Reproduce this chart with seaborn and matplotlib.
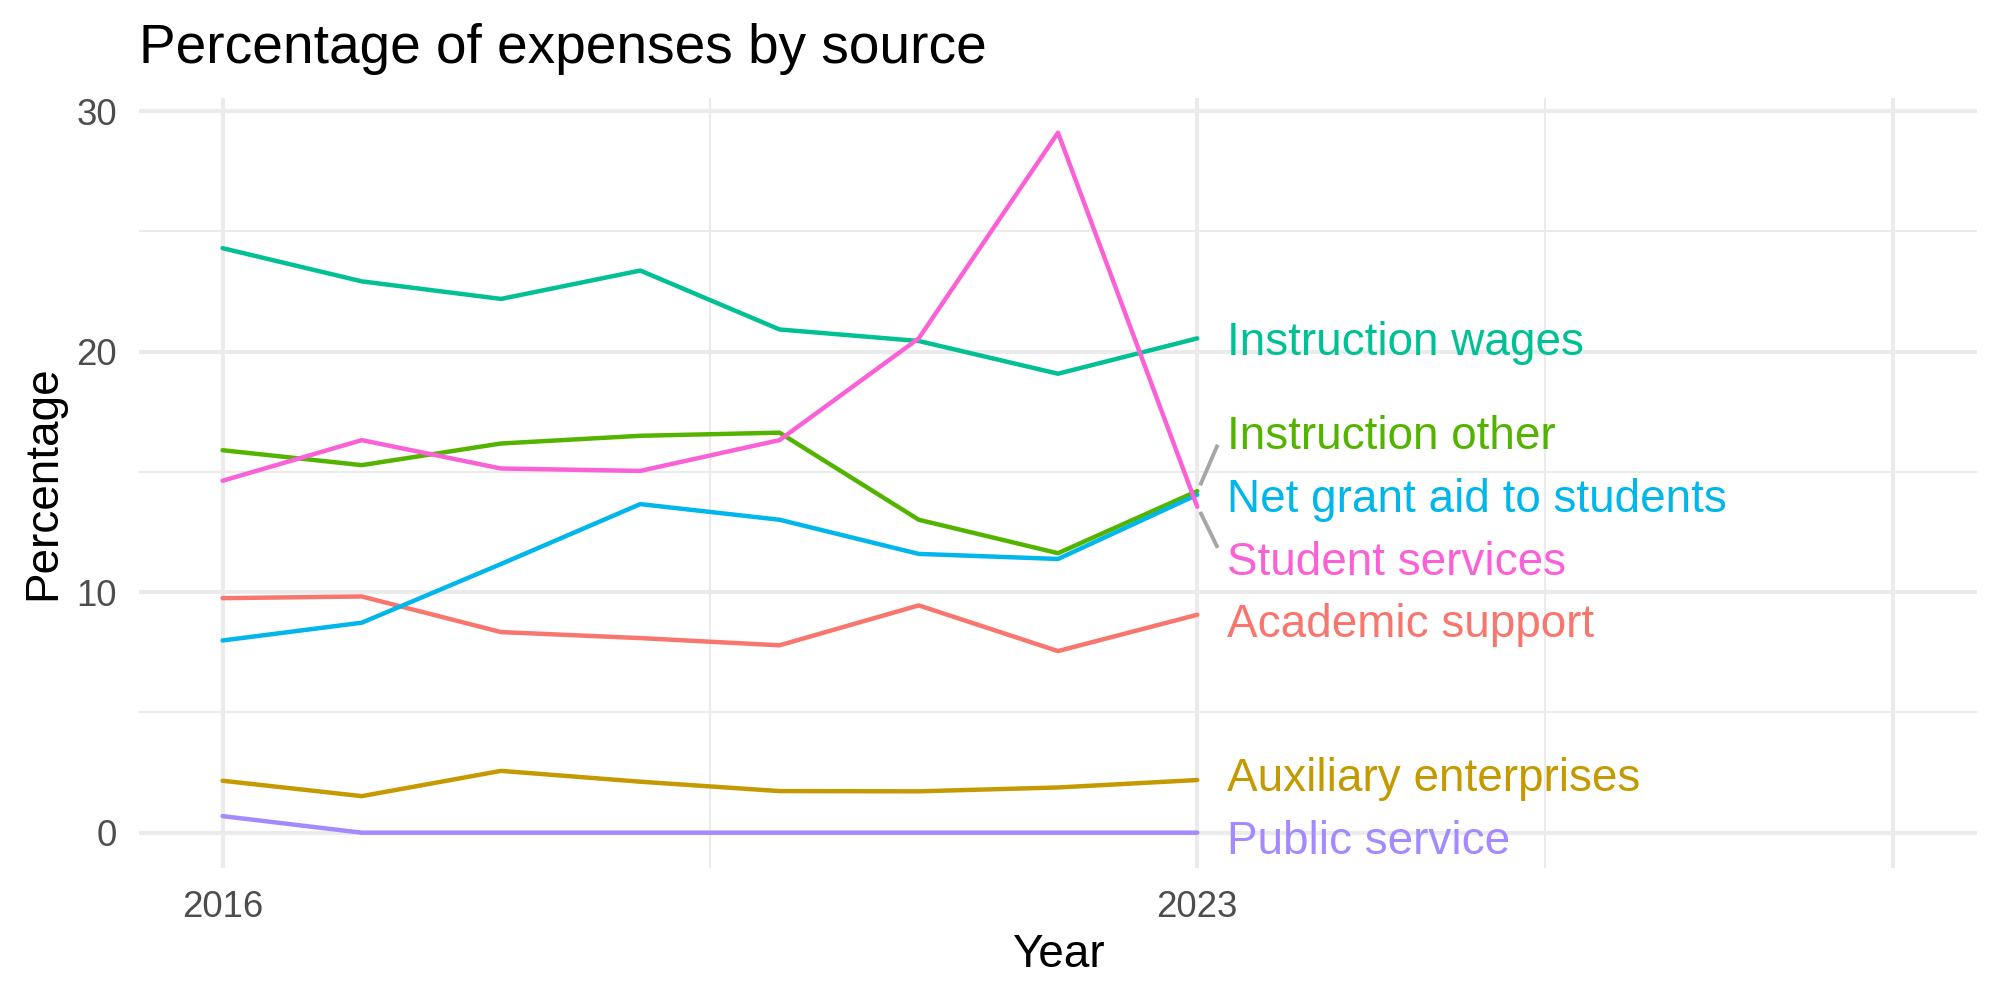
import seaborn as sns
import pandas as pd
import numpy as np
import matplotlib.pyplot as plt

# values
years = [2016, 2017, 2018, 2019, 2020, 2021, 2022, 2023]
academic_support = [9.75, 9.82, 8.34, 8.09, 7.79, 9.45, 7.55, 9.06]
auxiliary_enterprises = [2.16, 1.52, 2.57, 2.12, 1.73, 1.72, 1.88, 2.19]
instruction_other = [15.90, 15.28, 16.18, 16.50, 16.63, 13.01, 11.62, 14.20]
instruction_wages = [24.30, 22.92, 22.19, 23.37, 20.92, 20.44, 19.08, 20.55]
net_grant_aid = [7.99, 8.73, 11.17, 13.66, 13.01, 11.59, 11.38, 14.05]
public_service = [0.69, 0, 0, 0, 0, 0, 0, 0]
student_services = [14.63, 16.32, 15.14, 15.04, 16.32, 20.55, 29.10, 13.55]

sources = ["Academic support", "Auxiliary enterprises", "Instruction other",
           "Instruction wages", "Net grant aid to students", "Public service",
           "Student services"]
colors = ["#F8766D", "#C49A00", "#53B400", "#00C094", "#00B6EB", "#A58AFF", "#FB61D7"]

series = [academic_support, auxiliary_enterprises, instruction_other,
          instruction_wages, net_grant_aid, public_service, student_services]

data = pd.DataFrame({
    "Year": years * len(sources),
    "Percentage": np.concatenate(series),
    "Source": np.repeat(sources, len(years)),
})
palette = dict(zip(sources, colors))

sns.set_theme(style="white")
plt.rcParams['font.family'] = ['Liberation Sans', 'DejaVu Sans']

fig, ax = plt.subplots(figsize=(10, 5), dpi=200)
fig.subplots_adjust(left=0.0695, right=0.9885, top=0.9023, bottom=0.1323)

sns.lineplot(data=data, x="Year", y="Percentage", hue="Source", hue_order=sources,
             palette=palette, linewidth=1.6, legend=False, ax=ax)

# axis ranges like ggplot (5% expansion), x extended to make room for labels
x_lo, x_hi = 2016, 2028
ax.set_xlim(x_lo - 0.05 * (x_hi - x_lo), x_hi + 0.05 * (x_hi - x_lo))
y_lo, y_hi = data["Percentage"].min(), data["Percentage"].max()
ax.set_ylim(y_lo - 0.05 * (y_hi - y_lo), y_hi + 0.05 * (y_hi - y_lo))

ax.set_xticks([2016, 2023, 2028])
ax.set_xticklabels(["2016", "2023", ""])
ax.set_xticks([2019.5, 2025.5], minor=True)
ax.set_yticks([0, 10, 20, 30])
ax.set_yticks([5, 15, 25], minor=True)

ax.grid(which="major", color="#EBEBEB", linewidth=1.45)
ax.grid(which="minor", color="#EBEBEB", linewidth=0.72)
ax.set_axisbelow(True)
for s in ax.spines.values():
    s.set_visible(False)
ax.tick_params(which="both", length=0)
ax.tick_params(axis="both", labelsize=13.2, labelcolor="#4D4D4D", pad=7.9)

ax.set_xlabel("Year", fontsize=16.5, color="black", labelpad=3)
ax.set_ylabel("Percentage", fontsize=16.5, color="black", labelpad=4)

fig.text(0.0695, 1 - 0.0627, "Percentage of expenses by source",
         fontsize=19.8, color="black", ha="left", va="baseline")

# simple repel of end labels: merge overlapping labels into clusters
last = [s[-1] for s in series]
order = sorted(range(len(sources)), key=lambda i: -last[i])
gap = 2.6
clusters = [[i] for i in order]
merged = True
while merged:
    merged = False
    pos = []
    for c in clusters:
        m = np.mean([last[i] for i in c])
        pos.append([m + gap * ((len(c) - 1) / 2 - k) for k in range(len(c))])
    for j in range(len(clusters) - 1):
        if pos[j][-1] - pos[j + 1][0] < gap:
            clusters[j] = clusters[j] + clusters[j + 1]
            del clusters[j + 1]
            merged = True
            break
label_y = {}
for c, p in zip(clusters, pos):
    for i, y in zip(c, p):
        label_y[i] = y

end_year = years[-1]
label_dx = 0.21
for i, name in enumerate(sources):
    ly = label_y[i]
    ax.annotate(name, xy=(end_year, ly), xytext=(10.8, -5.9),
                textcoords="offset points", fontsize=16.5, color=colors[i],
                ha="left", va="baseline")
    dy = ly - last[i]
    if abs(dy) > 1:
        ax.plot([end_year + 0.1 * label_dx, end_year + 0.7 * label_dx],
                [last[i] + 0.1 * dy, last[i] + 0.8 * dy],
                color="#A6A6A6", linewidth=1.4, solid_capstyle="butt")

plt.savefig("out.png", dpi=200)
